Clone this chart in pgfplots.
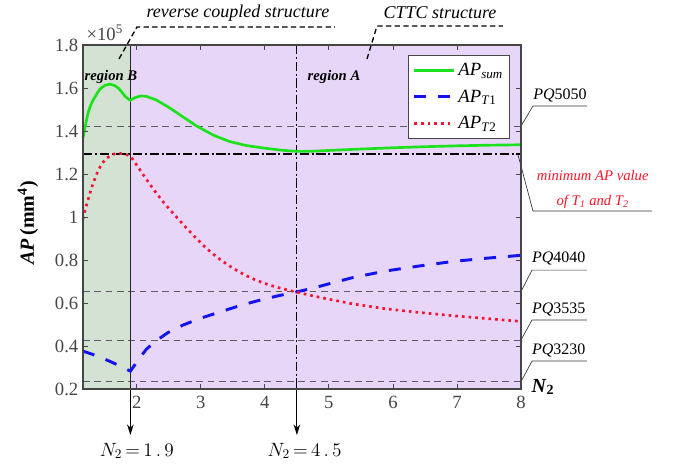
\documentclass[border=0pt]{standalone}
\usepackage{pgfplots}
\pgfplotsset{compat=1.18}
\usepackage{fontspec}
\setmainfont{Liberation Serif}
\usetikzlibrary{arrows.meta}
\definecolor{regB}{RGB}{211,226,210}
\definecolor{regA}{RGB}{231,214,248}
\definecolor{cgreen}{RGB}{30,225,30}
\definecolor{cblue}{RGB}{20,20,240}
\definecolor{cred}{RGB}{245,20,50}
\definecolor{refline}{RGB}{95,90,100}
\definecolor{tickgray}{RGB}{70,70,70}
\definecolor{notered}{RGB}{255,20,40}

\pgfplotstableread{
x y
1.16 1.368
1.20 1.43
1.24 1.485
1.28 1.52
1.32 1.545
1.38 1.575
1.425 1.595
1.50 1.612
1.58 1.618
1.65 1.612
1.71 1.60
1.77 1.58
1.815 1.562
1.87 1.548
1.90 1.543
1.95 1.552
2.00 1.558
2.07 1.563
2.15 1.561
2.30 1.545
2.50 1.51
2.70 1.47
2.93 1.424
3.20 1.38
3.45 1.351
3.70 1.333
3.97 1.321
4.25 1.311
4.50 1.305
4.75 1.306
5.03 1.31
5.50 1.316
6.00 1.322
6.50 1.327
7.00 1.331
7.50 1.334
8.00 1.336
}\apsum

\pgfplotstableread{
x y
1.16 0.376
1.30 0.362
1.45 0.345
1.60 0.326
1.75 0.305
1.90 0.283
1.94 0.30
2.00 0.325
2.07 0.354
2.15 0.385
2.30 0.424
2.49 0.463
2.72 0.497
2.93 0.522
3.14 0.543
3.35 0.563
3.56 0.583
3.77 0.601
3.97 0.617
4.23 0.635
4.49 0.651
4.75 0.669
5.01 0.690
5.37 0.718
5.89 0.749
6.41 0.772
6.93 0.793
7.45 0.808
7.97 0.821
8.00 0.822
}\apone

\pgfplotstableread{
x y
1.16 0.99
1.20 1.04
1.24 1.081
1.28 1.122
1.32 1.158
1.375 1.20
1.425 1.232
1.48 1.257
1.53 1.274
1.63 1.292
1.71 1.296
1.79 1.294
1.85 1.289
1.90 1.283
1.94 1.267
2.00 1.241
2.10 1.197
2.20 1.154
2.30 1.113
2.41 1.071
2.55 1.023
2.67 0.983
2.80 0.941
2.93 0.900
3.06 0.862
3.19 0.828
3.32 0.798
3.45 0.772
3.58 0.748
3.71 0.727
3.84 0.709
3.97 0.694
4.10 0.681
4.23 0.670
4.36 0.660
4.49 0.651
4.75 0.633
5.01 0.617
5.37 0.596
5.89 0.573
6.41 0.556
6.93 0.541
7.45 0.528
8.00 0.514
}\aptwo

\begin{document}
\begin{tikzpicture}
\path[use as bounding box] (-62.25pt,-57.75pt) rectangle (446.25pt,291.75pt);
\begin{axis}[
  at={(0,0)}, anchor=south west,
  scale only axis, width=328.5pt, height=258pt,
  xmin=1.16, xmax=8, ymin=0.2, ymax=1.8,
  xtick={2,3,4,5,6,7,8},
  ytick={0.2,0.4,0.6,0.8,1,1.2,1.4,1.6,1.8},
  tick align=inside,
  major tick length=4pt,
  axis line style={draw=tickgray, line width=0.8pt},
  every tick/.style={draw=tickgray, line width=0.6pt},
  tick label style={font=\fontsize{14}{16}\selectfont, text=tickgray},
  xticklabel style={yshift=-2pt},
  /pgf/number format/assume math mode=true,
  axis on top, clip=false,
  ylabel={\textbf{\textit{AP}}\,\textbf{(mm\textsuperscript{4})}},
  every axis y label/.style={at={(rel axis cs:-0.126,0.483)}, rotate=90, anchor=center, font=\fontsize{15}{17}\selectfont},
  xlabel={\textbf{\textit{N}\textsubscript{2}}},
  every axis x label/.style={at={(rel axis cs:1.05,0.006)}, anchor=center, font=\fontsize{15}{17}\selectfont},
  legend style={at={(0.975,0.971)}, anchor=north east, draw=tickgray, fill=white, line width=0.6pt,
    font=\fontsize{14}{16}\selectfont, row sep=5pt, inner xsep=3pt, inner ysep=4pt},
  legend cell align=left,
  legend image code/.code={\draw[#1] (0pt,0pt) -- (30pt,0pt);},
]
\fill[regB] (axis cs:1.16,0.2) rectangle (axis cs:1.9,1.8);
\fill[regA] (axis cs:1.9,0.2) rectangle (axis cs:8,1.8);

% reference lines
\addplot[refline, line width=0.7pt, dash pattern=on 5pt off 3.5pt, forget plot] coordinates {(1.16,1.423) (8,1.423)};
\addplot[refline, line width=0.7pt, dash pattern=on 5pt off 3.5pt, forget plot] coordinates {(1.16,0.653) (8,0.653)};
\addplot[refline, line width=0.7pt, dash pattern=on 5pt off 3.5pt, forget plot] coordinates {(1.16,0.428) (8,0.428)};
\addplot[refline, line width=0.7pt, dash pattern=on 5pt off 3.5pt, forget plot] coordinates {(1.16,0.234) (8,0.234)};
\addplot[black, line width=0.8pt, dash pattern=on 7pt off 2pt on 1.5pt off 2pt, forget plot] coordinates {(1.16,1.293) (8,1.293)};

% vertical lines
\draw[black!85, line width=0.8pt] (axis cs:1.9,1.8) -- (axis cs:1.9,0.2);
\draw[black, line width=0.8pt, dash pattern=on 7pt off 2pt on 1.5pt off 2pt] (axis cs:4.5,1.8) -- (axis cs:4.5,0.2);

% curves
\addplot[cgreen, line width=2pt] table[x=x,y=y] {\apsum};
\addlegendentry{\textit{AP}\textsubscript{\textit{sum}}}
\addplot[cblue, line width=2.2pt, dash pattern=on 9pt off 9pt] table[x=x,y=y] {\apone};
\addlegendentry{\textit{AP}\textsubscript{\textit{T}1}}
\addplot[cred, line width=2pt, dash pattern=on 2pt off 3pt] table[x=x,y=y] {\aptwo};
\addlegendentry{\textit{AP}\textsubscript{\textit{T}2}}

% arrows below axis
\draw[-{Stealth[length=8pt,width=5pt]}, line width=0.8pt] (axis cs:1.9,0.2) -- (axis cs:1.9,-0.014);
\draw[-{Stealth[length=8pt,width=5pt]}, line width=0.8pt] (axis cs:4.5,0.2) -- (axis cs:4.5,-0.014);
\node[font=\fontsize{14}{16}\selectfont] at (axis cs:2.0,-0.088) {$N_2\,{=}\,1\,.\,9$};
\node[font=\fontsize{14}{16}\selectfont] at (axis cs:4.62,-0.088) {$N_2\,{=}\,4\,.\,5$};

% top annotations
\node[font=\fontsize{13.5}{15}\selectfont\itshape] at (axis cs:3.58,1.949) {reverse coupled structure};
\draw[black, line width=1pt, dash pattern=on 4pt off 2.5pt] (axis cs:1.722,1.735) -- (axis cs:2.003,1.884) -- (axis cs:5.095,1.884);
\node[font=\fontsize{13.5}{15}\selectfont\itshape] at (axis cs:6.735,1.949) {CTTC structure};
\draw[black, line width=1pt, dash pattern=on 4pt off 2.5pt] (axis cs:5.595,1.735) -- (axis cs:5.751,1.888) -- (axis cs:7.718,1.888);
\node[font=\fontsize{14}{16}\selectfont, text=tickgray] at (axis cs:1.50,1.858) {×10\textsuperscript{5}};

\node[font=\fontsize{11}{13}\selectfont\bfseries\itshape] at (axis cs:1.597,1.651) {region B};
\node[font=\fontsize{11}{13}\selectfont\bfseries\itshape] at (axis cs:5.08,1.651) {region A};

% right annotations
\draw[black!80, line width=0.5pt] (axis cs:8,1.423) -- (axis cs:8.187,1.516) -- (axis cs:9.03,1.516);
\node[font=\fontsize{12}{14}\selectfont] at (axis cs:8.61,1.563) {\textit{PQ}5050};
\draw[black!80, line width=0.5pt] (axis cs:7.95,1.293) -- (axis cs:8.187,1.028) -- (axis cs:10.045,1.028);
\node[font=\fontsize{11}{13}\selectfont\itshape, text=notered] at (axis cs:9.12,1.191) {minimum AP value};
\node[font=\fontsize{11}{13}\selectfont\itshape, text=notered] at (axis cs:9.12,1.070) {of T\textsubscript{1} and T\textsubscript{2}};
\draw[black!80, line width=0.5pt] (axis cs:8,0.653) -- (axis cs:8.172,0.753) -- (axis cs:9.03,0.753);
\node[font=\fontsize{12}{14}\selectfont] at (axis cs:8.59,0.805) {\textit{PQ}4040};
\draw[black!80, line width=0.5pt] (axis cs:8,0.428) -- (axis cs:8.172,0.521) -- (axis cs:9.03,0.521);
\node[font=\fontsize{12}{14}\selectfont] at (axis cs:8.59,0.572) {\textit{PQ}3535};
\draw[black!80, line width=0.5pt] (axis cs:8,0.234) -- (axis cs:8.172,0.330) -- (axis cs:9.03,0.330);
\node[font=\fontsize{12}{14}\selectfont] at (axis cs:8.59,0.381) {\textit{PQ}3230};
\end{axis}
\end{tikzpicture}
\end{document}
